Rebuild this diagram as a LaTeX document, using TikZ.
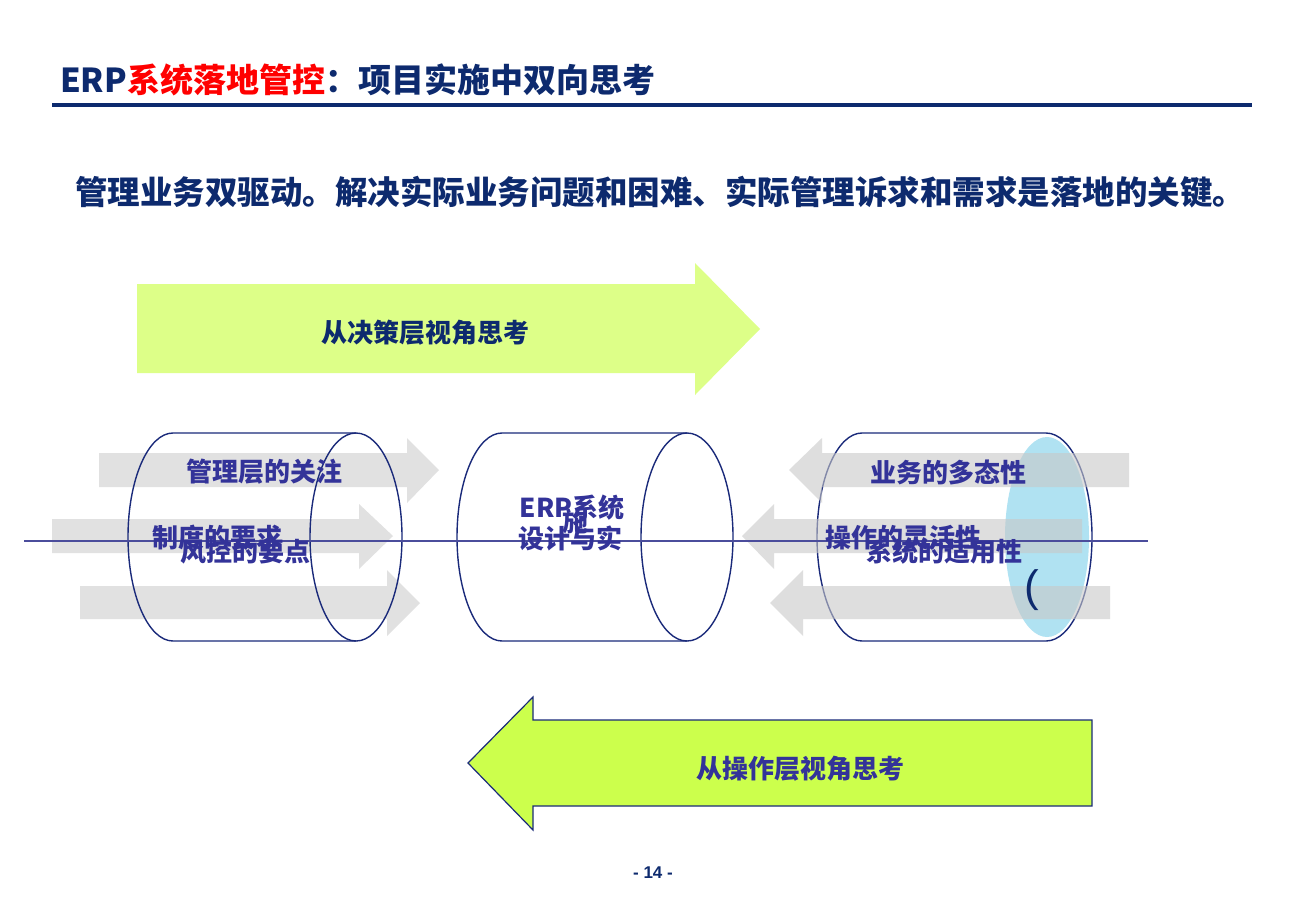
\documentclass[tikz,border=0pt]{standalone}
\usepackage{fontspec}
\setmainfont{Liberation Sans}
\newfontfamily\cjk{Noto Sans CJK SC}
\definecolor{navy}{HTML}{0D2A6E}
\definecolor{tred}{HTML}{FF0000}
\definecolor{lblue}{HTML}{333399}
\definecolor{grayarrow}{HTML}{E1E1E1}
\definecolor{grayarrowt}{HTML}{C8C8C8}
\definecolor{topgreen}{HTML}{DDFF88}
\definecolor{botgreen}{HTML}{CCFF4C}
\definecolor{cylline}{HTML}{1A2A7A}
\definecolor{skyblue}{HTML}{B0E2F2}
\definecolor{midline}{HTML}{4B4D9C}
\tikzset{
  garrow/.style={fill=grayarrow},
  garrowt/.style={fill=grayarrowt, fill opacity=0.6},
  cyl/.style={draw=cylline, line width=1.4pt},
  lbl/.style={inner sep=0pt, text=lblue, font=\cjk\bfseries\fontsize{26}{30}\selectfont},
  bigarrowtext/.style={inner sep=0pt, font=\cjk\bfseries\fontsize{26}{30}\selectfont},
}
\begin{document}
\begin{tikzpicture}[x=1pt,y=-1pt]
\useasboundingbox (0,0) rectangle (1300,900);
\fill[white] (0,0) rectangle (1300,900);

% title
\node[anchor=west, inner sep=0pt, text=navy, font=\cjk\bfseries\fontsize{33}{38}\selectfont] (title) at (60,80)
  {ERP\textcolor{tred}{系统落地管控}：项目实施中双向思考};
\draw[navy, line width=4pt] (52,104.5) -- (1252,104.5);

% subtitle
\node[inner sep=0pt, text=navy, font=\cjk\bfseries\fontsize{32.5}{36}\selectfont] (sub) at (660,192)
  {管理业务双驱动。解决实际业务问题和困难、实际管理诉求和需求是落地的关键。};

% top arrow
\fill[topgreen] (137,284) -- (695,284) -- (695,263) -- (760,329) -- (695,395) -- (695,373) -- (137,373) -- cycle;
\node[bigarrowtext, text=navy] (toplbl) at (425,333) {从决策层视角思考};

% bottom arrow
\filldraw[fill=botgreen, draw=cylline, line width=1.2pt] (1092,720) -- (533,720) -- (533,697) -- (468,763) -- (533,830) -- (533,806) -- (1092,806) -- cycle;
\node[bigarrowtext, text=lblue] (botlbl) at (800,769) {从操作层视角思考};

% gray arrows left (below the cylinder outline)
\fill[garrow] (99,453) -- (407,453) -- (407,438) -- (439,470) -- (407,503) -- (407,487) -- (99,487) -- cycle;
\fill[garrow] (52,519) -- (359,519) -- (359,504) -- (393,536) -- (359,569) -- (359,553) -- (52,553) -- cycle;
\fill[garrow] (80,586) -- (387,586) -- (387,570) -- (420,603) -- (387,636) -- (387,619) -- (80,619) -- cycle;

% cylinders
\draw[cyl] (356,433) -- (173,433) arc[start angle=270, end angle=90, x radius=45, y radius=104] -- (356,641);
\draw[cyl] (356,537) ellipse[x radius=46, y radius=104];
\draw[cyl] (687,433) -- (502,433) arc[start angle=270, end angle=90, x radius=45, y radius=104] -- (687,641);
\draw[cyl] (687,537) ellipse[x radius=46, y radius=104];
\draw[cyl] (1046,433) -- (862,433) arc[start angle=270, end angle=90, x radius=45, y radius=104] -- (1046,641)
  arc[start angle=90, end angle=-90, x radius=46, y radius=104];

% blue ellipse
\fill[skyblue] (1047,537) ellipse[x radius=42, y radius=100];

% gray arrows right (translucent, over the cylinder)
\fill[garrowt] (1129,453) -- (822,453) -- (822,438) -- (789,470) -- (822,503) -- (822,487) -- (1129,487) -- cycle;
\fill[garrowt] (1082,519) -- (774,519) -- (774,504) -- (742,536) -- (774,569) -- (774,553) -- (1082,553) -- cycle;
\fill[garrowt] (1110,586) -- (803,586) -- (803,570) -- (770,603) -- (803,636) -- (803,619) -- (1110,619) -- cycle;

% thin line
\coordinate (lineL) at (24,541);
\coordinate (lineR) at (1148,541);
\draw[midline, line width=1.3pt] (lineL) -- (lineR);

% labels
\node[lbl] (l1) at (264,472) {管理层的关注};
\node[lbl] (l2) at (217,538) {制度的要求};
\node[lbl] (l3) at (245,552) {风控的要点};
\node[lbl] (m1) at (572,508) {ERP系统};
\node[lbl] (m2) at (575,522) {施};
\node[lbl] (m3) at (570,538) {设计与实};
\node[lbl] (r1) at (948,472) {业务的多态性};
\node[lbl] (r2) at (903,538) {操作的灵活性};
\node[lbl] (r3) at (944,552) {系统的适用性};
\node[inner sep=0pt, text=navy, font=\fontsize{44}{48}\selectfont] (paren) at (1032,590) {(};

% page number
\node[inner sep=0pt, text=navy, font=\bfseries\fontsize{17}{20}\selectfont] (page) at (653,873) {- 14 -};
\end{tikzpicture}
\end{document}
